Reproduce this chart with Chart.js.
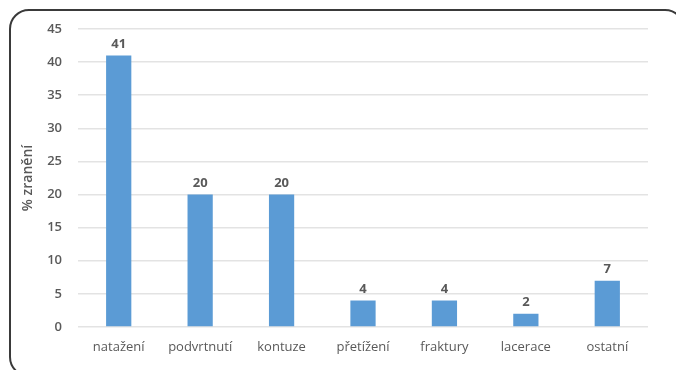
<!DOCTYPE html>
<html>
<head>
<meta charset="utf-8">
<script src="https://cdn.jsdelivr.net/npm/chart.js@4/dist/chart.umd.min.js"></script>
<style>
  html, body { margin: 0; padding: 0; background: #fff; overflow: hidden; }
  .wrap { position: relative; width: 676px; height: 370px; }
  .frame {
    position: absolute; left: 9px; top: 9px; width: 672px; height: 364px;
    border: 2px solid #3a3a3a; border-radius: 20px; pointer-events: none;
  }
  canvas { position: absolute; left: 0; top: 0; }
</style>
</head>
<body>
<div class="wrap">
  <canvas id="injuryChart" width="676" height="370"></canvas>
  <div class="frame"></div>
</div>
<script>
const categories = ['natažení', 'podvrtnutí', 'kontuze', 'přetížení', 'fraktury', 'lacerace', 'ostatní'];
const injuryShare = [41, 20, 20, 4, 4, 2, 7];
const axisTitle = '% zranění';

const textGrey = '#595959';
const fontFamily = '"Open Sans", sans-serif';

// value labels drawn above each bar
const barValueLabels = {
  id: 'barValueLabels',
  afterDatasetsDraw(chart) {
    const { ctx } = chart;
    const meta = chart.getDatasetMeta(0);
    ctx.save();
    ctx.font = `bold 13px ${fontFamily}`;
    ctx.fillStyle = textGrey;
    ctx.textAlign = 'center';
    ctx.textBaseline = 'bottom';
    meta.data.forEach((bar, i) => {
      ctx.fillText(String(injuryShare[i]), bar.x, bar.y - 5);
    });
    ctx.restore();
  }
};

const ctx = document.getElementById('injuryChart').getContext('2d');
new Chart(ctx, {
  type: 'bar',
  data: {
    labels: categories,
    datasets: [{
      data: injuryShare,
      backgroundColor: '#5b9bd5',
      barPercentage: 0.31,
      categoryPercentage: 1
    }]
  },
  options: {
    responsive: false,
    animation: false,
    layout: { padding: { left: 18, right: 28, top: 29, bottom: 13 } },
    plugins: {
      legend: { display: false },
      tooltip: { enabled: false }
    },
    scales: {
      x: {
        grid: { display: false, drawTicks: false },
        border: { display: false },
        ticks: { color: textGrey, font: { family: fontFamily, size: 13 }, padding: 12, maxRotation: 0 },
        afterFit: (scale) => { scale.height = 30; }
      },
      y: {
        min: 0,
        max: 45,
        ticks: { stepSize: 5, color: textGrey, font: { family: fontFamily, size: 13, weight: '600' }, padding: 16 },
        grid: { color: '#e3e3e3', lineWidth: 1.5, drawTicks: false },
        border: { display: false },
        title: { display: true, text: axisTitle, color: textGrey, font: { family: fontFamily, size: 14, weight: '600' }, padding: { top: 2, bottom: 2 } },
        afterFit: (scale) => { scale.width = 60; }
      }
    }
  },
  plugins: [barValueLabels]
});
</script>
</body>
</html>
